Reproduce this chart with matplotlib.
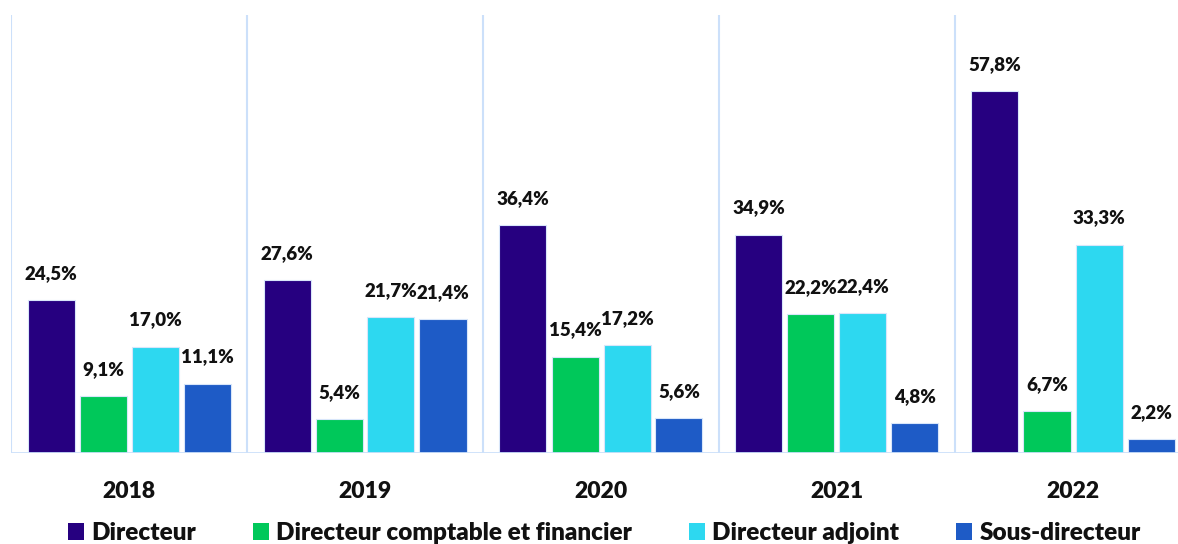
import matplotlib
matplotlib.use("Agg")
import matplotlib.pyplot as plt
from matplotlib.patches import Patch
import numpy as np

years = ["2018", "2019", "2020", "2021", "2022"]
series = ["Directeur", "Directeur comptable et financier", "Directeur adjoint", "Sous-directeur"]
directeur = [24.5, 27.6, 36.4, 34.9, 57.8]
dcf = [9.1, 5.4, 15.4, 22.2, 6.7]
adjoint = [17.0, 21.7, 17.2, 22.4, 33.3]
sous_dir = [11.1, 21.4, 5.6, 4.8, 2.2]
values = [directeur, dcf, adjoint, sous_dir]
colors = ["#260080", "#00C85A", "#2DD8F0", "#1E5BC6"]

plt.rcParams['font.family'] = ['Lato', 'DejaVu Sans']
WEIGHT = "heavy"

fig = plt.figure(figsize=(11.78, 5.44), dpi=100)
W, H = 1178, 544
left_px, right_px, top_px, bot_px = 11, 1191, 15, 453
ax = fig.add_axes([left_px / W, 1 - bot_px / H, (right_px - left_px) / W, (bot_px - top_px) / H])

x = np.arange(len(years))
bw = 47 / 236
step = 52 / 236
for i, (vals, c) in enumerate(zip(values, colors)):
    pos = x + (i - 1.5) * step
    ax.bar(pos, vals, width=bw, color=c, edgecolor="#D8E6FA", linewidth=0.8, zorder=3)
    for xp, v in zip(pos, vals):
        ax.annotate(f"{v:.1f}%".replace(".", ","), (xp, v), xytext=(0, 13),
                    textcoords="offset points", ha="center", va="bottom",
                    fontsize=13.5, fontweight=WEIGHT, color="#111111")

ax.set_xlim(-0.5, len(years) - 0.5)
ax.set_ylim(0, 70)
for b in np.arange(-0.5, len(years)):
    ax.axvline(b, color="#CCE0FA", linewidth=1.5, zorder=1)
ax.axhline(0, color="#CCE0FA", linewidth=2, zorder=4)
for s in ax.spines.values():
    s.set_visible(False)
ax.set_yticks([])
ax.set_xticks(x)
ax.set_xticklabels(years, fontsize=16.5, fontweight=WEIGHT, color="#111111")
ax.tick_params(axis="x", length=0, pad=20)

handles = [Patch(facecolor=c, edgecolor="none") for c in colors]
leg = fig.legend(handles, series, loc="center", bbox_to_anchor=(0.513, 1 - 533 / H), ncol=4,
                 frameon=False, prop={"size": 17.5, "weight": WEIGHT},
                 handlelength=0.65, handleheight=0.65, handletextpad=0.3, columnspacing=2.35)
for t in leg.get_texts():
    t.set_color("#111111")

fig.savefig("out.png", dpi=100)
